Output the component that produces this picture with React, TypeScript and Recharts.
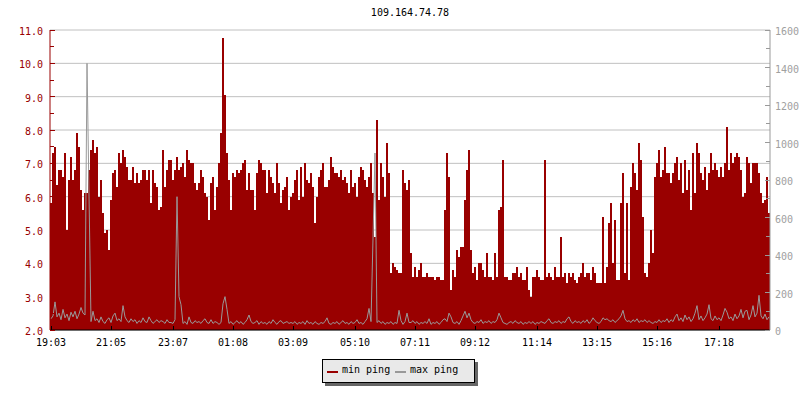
import React from 'react';
import { ComposedChart, Bar, Line, XAxis, YAxis, CartesianGrid } from 'recharts';

const TITLE = '109.164.74.78';
const FONT = "'DejaVu Sans Mono', monospace";
const RED = '#990000';
const GRAY = '#999999';

// minimum ping (ms), one sample every ~4 minutes starting 19:03
const minPing = [
  5.8, 7.3, 7.5, 6.35, 6.8, 6.8, 6.6, 7.3, 5.0, 6.5,
  7.2, 6.5, 6.8, 7.9, 7.5, 6.2, 5.6, 6.1, 6.1, 6.8,
  7.4, 7.7, 7.3, 7.5, 6.0, 6.5, 5.5, 4.9, 5.0, 4.4,
  5.9, 6.7, 6.8, 6.3, 7.3, 7.0, 7.4, 7.2, 6.9, 6.5,
  6.5, 6.9, 6.4, 6.7, 6.4, 6.5, 6.8, 6.8, 6.5, 6.8,
  5.8, 6.8, 6.4, 6.3, 5.6, 5.7, 7.4, 6.3, 6.8, 7.1,

  7.1, 6.5, 6.8, 7.2, 6.8, 6.9, 7.0, 6.6, 7.4, 7.1,
  7.0, 7.0, 6.4, 6.2, 6.4, 6.8, 6.6, 6.1, 6.0, 5.3,
  6.4, 6.6, 5.6, 6.3, 7.0, 7.9, 10.75, 9.05, 7.3, 6.5,
  5.6, 6.7, 6.6, 6.8, 6.7, 6.8, 7.0, 7.1, 6.2, 6.7,
  6.2, 6.2, 5.6, 6.7, 7.1, 7.0, 6.8, 6.8, 6.1, 6.8,
  6.6, 6.4, 6.1, 7.0, 6.4, 5.8, 6.2, 6.3, 6.6, 5.6,

  6.0, 6.1, 6.5, 6.8, 5.9, 6.9, 6.0, 7.0, 6.5, 6.4,
  6.7, 6.3, 5.2, 6.0, 6.6, 6.8, 7.0, 6.3, 6.3, 6.5,
  7.2, 6.9, 6.7, 6.7, 6.6, 6.8, 6.5, 6.6, 6.4, 6.1,
  6.8, 6.3, 6.4, 6.0, 6.6, 6.9, 6.8, 6.5, 6.3, 6.6,
  7.0, 6.1, 4.8, 8.3, 5.9, 7.0, 6.6, 6.0, 7.6, 6.7,
  3.7, 4.0, 3.9, 3.8, 3.7, 3.7, 6.8, 6.4, 6.2, 6.5,

  4.3, 3.6, 3.9, 3.6, 3.8, 4.0, 3.6, 3.6, 3.7, 3.6,
  3.6, 3.6, 3.5, 3.6, 3.6, 3.5, 3.5, 5.6, 7.3, 6.6,
  3.2, 3.8, 3.6, 4.4, 4.2, 4.5, 4.5, 5.9, 6.8, 7.4,
  4.4, 3.7, 3.9, 3.5, 4.0, 4.0, 3.8, 3.6, 4.3, 3.6,
  3.6, 3.5, 4.3, 3.6, 5.6, 5.7, 7.1, 3.6, 3.6, 3.5,
  3.5, 3.7, 3.7, 3.9, 3.6, 3.7, 3.5, 3.5, 3.9, 3.2,

  3.0, 3.6, 3.6, 3.8, 3.6, 3.5, 3.5, 7.1, 3.6, 3.7,
  3.6, 3.5, 3.9, 3.6, 3.6, 4.8, 3.6, 3.7, 3.4, 3.7,
  3.6, 3.7, 3.5, 3.4, 3.6, 3.7, 4.0, 3.6, 3.7, 3.7,
  3.5, 3.9, 3.7, 3.4, 3.4, 3.4, 5.4, 3.4, 3.9, 5.2,
  5.8, 4.0, 5.3, 3.5, 3.5, 5.8, 6.7, 3.7, 5.8, 3.5,
  6.3, 7.0, 6.7, 6.2, 7.6, 7.1, 5.4, 3.7, 3.6, 4.0,

  5.0, 4.3, 6.6, 7.0, 7.4, 6.6, 6.8, 7.5, 6.7, 6.7,
  6.4, 6.7, 7.0, 7.2, 6.5, 7.0, 6.1, 7.1, 6.2, 6.8,
  5.6, 7.3, 6.1, 7.6, 7.3, 6.7, 6.5, 6.9, 6.2, 6.7,
  7.3, 6.8, 7.0, 6.8, 6.6, 6.9, 6.6, 7.0, 8.1, 6.8,
  7.3, 7.0, 7.2, 7.3, 7.2, 6.8, 6.0, 6.1, 7.2, 7.0,
  6.4, 7.0, 7.0, 7.0, 6.7, 6.1, 5.8, 5.9, 6.6, 5.5,
];

// maximum ping (ms), right axis
const maxPing = [
  60, 75, 150, 70, 90, 55, 110, 65, 85, 50,
  95, 70, 100, 60, 85, 120, 90, 80, 1422, 720,
  45, 100, 50, 60, 40, 70, 45, 35, 55, 65,
  40, 75, 90, 50, 60, 45, 130, 70, 50, 40,
  60, 45, 55, 35, 50, 40, 65, 45, 40, 70,
  50, 35, 45, 55, 40, 50, 45, 35, 55, 40,

  40, 35, 55, 711, 178, 135, 35, 45, 30, 70,
  40, 35, 50, 40, 45, 35, 50, 60, 40, 35,
  55, 35, 45, 40, 30, 40, 140, 178, 110, 35,
  45, 30, 40, 50, 35, 45, 30, 40, 55, 80,
  45, 35, 40, 50, 30, 45, 35, 40, 30, 45,
  35, 55, 40, 30, 45, 50, 35, 40, 45, 35,

  40, 35, 45, 30, 40, 35, 45, 30, 50, 35,
  40, 30, 45, 35, 30, 40, 35, 45, 65, 35,
  30, 40, 35, 45, 30, 40, 50, 35, 40, 30,
  45, 35, 40, 55, 35, 40, 30, 45, 60, 115,
  45, 490, 944, 40, 50, 35, 45, 30, 40, 35,
  45, 30, 40, 35, 105, 50, 30, 45, 90, 40,

  40, 50, 35, 45, 30, 40, 35, 45, 35, 60,
  30, 40, 35, 45, 30, 40, 55, 60, 45, 90,
  70, 40, 35, 45, 30, 50, 75, 100, 65, 90,
  55, 40, 35, 45, 40, 55, 35, 45, 40, 50,
  35, 45, 40, 55, 90, 65, 40, 35, 30, 40,
  45, 35, 50, 40, 35, 45, 30, 40, 35, 45,

  35, 45, 30, 40, 35, 45, 40, 35, 50, 60,
  40, 35, 45, 40, 50, 35, 45, 40, 60, 70,
  45, 35, 50, 40, 45, 35, 50, 40, 55, 35,
  45, 65, 50, 40, 35, 45, 65, 55, 60, 50,
  45, 55, 40, 50, 60, 75, 105, 60, 45, 50,
  40, 55, 45, 60, 40, 50, 45, 55, 40, 50,

  40, 35, 45, 40, 55, 40, 50, 45, 60, 40,
  55, 45, 70, 85, 50, 65, 45, 80, 55, 70,
  45, 60, 90, 130, 55, 75, 50, 65, 85, 135,
  60, 50, 75, 55, 65, 50, 80, 115, 95, 60,
  70, 50, 85, 60, 75, 110, 65, 100, 105, 55,
  80, 130, 70, 90, 185, 75, 60, 85, 55, 70,
];

const timeLabels = ['19:03', '21:05', '23:07', '01:08', '03:09', '05:10', '07:11', '09:12', '11:14', '13:15', '15:16', '17:18'];
const timeOffsetsMin = [0, 122, 244, 365, 486, 607, 728, 849, 971, 1092, 1213, 1335];
const SAMPLE_MIN = 4;

const leftTicks = [2, 2.5, 3, 3.5, 4, 4.5, 5, 5.5, 6, 6.5, 7, 7.5, 8, 8.5, 9, 9.5, 10, 10.5, 11];
const leftGrid = [2, 3, 4, 5, 6, 7, 8, 9, 10, 11];
const rightTicks = [0, 100, 200, 300, 400, 500, 600, 700, 800, 900, 1000, 1100, 1200, 1300, 1400, 1500, 1600];

const data = minPing.map((v, i) => ({ i, min: v, max: maxPing[i] }));
const xTicks = timeOffsetsMin.map((m) => Math.floor(m / SAMPLE_MIN + 0.4));
const xLabelMap: Record<number, string> = {};
xTicks.forEach((t, k) => { xLabelMap[t] = timeLabels[k]; });

const LeftTick = (p: any) => {
  const { x, y, payload } = p;
  const v = payload.value as number;
  const major = Math.abs(v - Math.round(v)) < 1e-6;
  return (
    <g>
      <line x1={x} x2={x + (major ? 5 : 4)} y1={y} y2={y} stroke={RED} shapeRendering="crispEdges" />
      {major && (
        <text x={x - 7} y={y + 5} textAnchor="end" fill={RED} fontSize={10} fontFamily={FONT}>
          {v.toFixed(1)}
        </text>
      )}
    </g>
  );
};

const RightTick = (p: any) => {
  const { x, y, payload } = p;
  const v = payload.value as number;
  const major = v % 200 === 0;
  return (
    <g>
      <line x1={x - (major ? 5 : 4)} x2={x} y1={y} y2={y} stroke={GRAY} shapeRendering="crispEdges" />
      {major && (
        <text x={x + 5} y={y + 5} textAnchor="start" fill="#a0a0a0" fontSize={10} fontFamily={FONT}>
          {String(v)}
        </text>
      )}
    </g>
  );
};

const XTick = (p: any) => {
  const { x, y, payload } = p;
  const label = xLabelMap[payload.value as number] ?? '';
  return (
    <g>
      <line x1={x} x2={x} y1={y} y2={y - 4} stroke="#000" shapeRendering="crispEdges" />
      <text x={x} y={y + 15.5} textAnchor="middle" fill="#000" fontSize={10} fontFamily={FONT}>
        {label}
      </text>
    </g>
  );
};

export default function App() {
  return (
    <div style={{ position: 'absolute', left: 0, top: 0, width: 800, height: 400, background: '#fff', fontFamily: FONT }}>
      <div style={{ position: 'absolute', left: 0, top: 7, width: 820, textAlign: 'center', fontSize: 10, lineHeight: '12px', color: '#000', fontFamily: FONT }}>
        {TITLE}
      </div>
      <ComposedChart
        width={800}
        height={400}
        data={data}
        margin={{ top: 30, right: 0, bottom: 50, left: 0 }}
        barCategoryGap={0}
        barGap={0}
      >
        <CartesianGrid yAxisId="left" vertical={false} horizontalValues={leftGrid} stroke="#c0c0c0" strokeWidth={1} />
        <XAxis
          dataKey="i"
          type="category"
          ticks={xTicks}
          interval={0}
          height={20}
          tickSize={0}
          tickMargin={0}
          tickLine={false}
          axisLine={{ stroke: '#000' }}
          tick={(p: any) => <XTick {...p} />}
        />
        <YAxis
          yAxisId="left"
          type="number"
          domain={[2, 11]}
          ticks={leftTicks}
          interval={0}
          allowDataOverflow
          width={50}
          tickSize={0}
          tickMargin={0}
          tickLine={false}
          axisLine={{ stroke: RED }}
          tick={(p: any) => <LeftTick {...p} />}
        />
        <YAxis
          yAxisId="right"
          orientation="right"
          type="number"
          domain={[0, 1600]}
          ticks={rightTicks}
          interval={0}
          allowDataOverflow
          width={30}
          tickSize={0}
          tickMargin={0}
          tickLine={false}
          axisLine={{ stroke: GRAY }}
          tick={(p: any) => <RightTick {...p} />}
        />
        <Bar yAxisId="left" dataKey="min" fill={RED} isAnimationActive={false} shapeRendering="crispEdges" />
        <Line
          yAxisId="right"
          dataKey="max"
          type="linear"
          stroke={GRAY}
          strokeWidth={1}
          dot={false}
          activeDot={false}
          isAnimationActive={false}
        />
      </ComposedChart>
      <div
        style={{
          position: 'absolute',
          left: 322,
          top: 359,
          width: 151,
          height: 22,
          border: '1px solid #000',
          background: '#e9e9e9',
          boxShadow: '3px 3px 0 #666',
          fontSize: 10,
          fontFamily: FONT,
          color: '#000',
        }}
      >
        <div style={{ position: 'absolute', left: 4, top: 11, width: 11, height: 2, background: RED }} />
        <div style={{ position: 'absolute', left: 19, top: 0, lineHeight: '19px', whiteSpace: 'nowrap' }}>min ping</div>
        <div style={{ position: 'absolute', left: 72, top: 11, width: 11, height: 2, background: GRAY }} />
        <div style={{ position: 'absolute', left: 87, top: 0, lineHeight: '19px', whiteSpace: 'nowrap' }}>max ping</div>
      </div>
    </div>
  );
}
